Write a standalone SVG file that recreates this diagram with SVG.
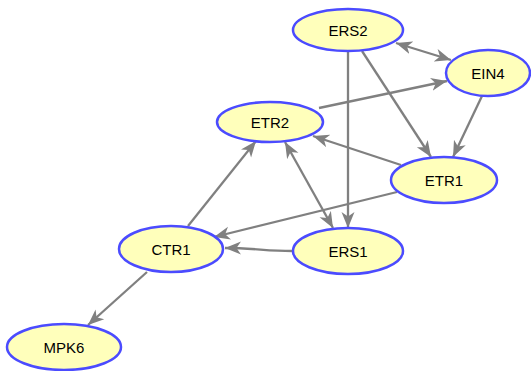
<svg xmlns="http://www.w3.org/2000/svg" width="531" height="371" viewBox="0 0 531 371">
  <style>
    .node ellipse { fill: #ffffbb; stroke: #4b4bff; stroke-width: 2.5; }
    .node text { font-family: "Liberation Sans", Arial, sans-serif; font-size: 15px; fill: #000; text-anchor: middle; }
    .edge { fill: none; stroke: #808080; stroke-width: 2.3; }
  </style>
  <defs>
    <marker id="arrow" markerUnits="userSpaceOnUse" markerWidth="18" markerHeight="14" refX="16" refY="7" orient="auto-start-reverse">
      <path d="M0,0.5 L16,7 L0,13.5 L4.5,7 z" fill="#808080"/>
    </marker>
  </defs>

  <rect width="531" height="371" fill="#ffffff"/>

  <g id="edges">
    <path class="edge" d="M396,43 L451,60" marker-start="url(#arrow)" marker-end="url(#arrow)"/>
    <path class="edge" d="M348,51 L348,228" marker-end="url(#arrow)"/>
    <path class="edge" d="M362,51 L431,157" marker-end="url(#arrow)"/>
    <path class="edge" d="M482,96 L453,157" marker-end="url(#arrow)"/>
    <path class="edge" d="M319,108 L447,81" marker-end="url(#arrow)"/>
    <path class="edge" d="M401,165 L313,136" marker-end="url(#arrow)"/>
    <path class="edge" d="M397,192 L214,237" marker-end="url(#arrow)"/>
    <path class="edge" d="M292,251 C266,251 254,248 225,248" marker-end="url(#arrow)"/>
    <path class="edge" d="M285,142 L333,228" marker-start="url(#arrow)" marker-end="url(#arrow)"/>
    <path class="edge" d="M188,226 L256,141" marker-end="url(#arrow)"/>
    <path class="edge" d="M147,272 L88,325" marker-end="url(#arrow)"/>
  </g>

  <g id="ERS2" class="node">
    <ellipse cx="348" cy="30" rx="55" ry="21"/>
    <text x="348" y="35.5">ERS2</text>
  </g>
  <g id="EIN4" class="node">
    <ellipse cx="488" cy="73" rx="42" ry="23"/>
    <text x="488" y="78.5">EIN4</text>
  </g>
  <g id="ETR2" class="node">
    <ellipse cx="270" cy="122" rx="53" ry="20"/>
    <text x="270" y="127.5">ETR2</text>
  </g>
  <g id="ETR1" class="node">
    <ellipse cx="444" cy="180" rx="53" ry="23"/>
    <text x="444" y="185.5">ETR1</text>
  </g>
  <g id="CTR1" class="node">
    <ellipse cx="171" cy="249" rx="52" ry="23"/>
    <text x="171" y="254.5">CTR1</text>
  </g>
  <g id="ERS1" class="node">
    <ellipse cx="348" cy="251" rx="55" ry="23"/>
    <text x="348" y="256.5">ERS1</text>
  </g>
  <g id="MPK6" class="node">
    <ellipse cx="64" cy="347" rx="57" ry="23"/>
    <text x="64" y="352.5">MPK6</text>
  </g>
</svg>
